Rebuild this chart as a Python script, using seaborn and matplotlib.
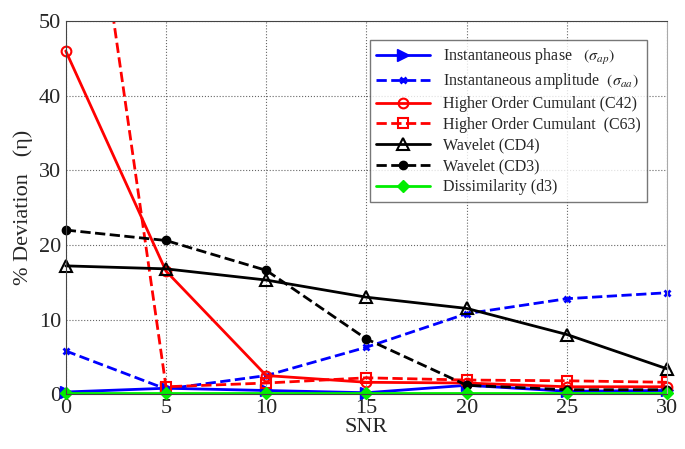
import matplotlib
matplotlib.use("Agg")
import matplotlib.pyplot as plt
import seaborn as sns
import pandas as pd

snr = [0, 5, 10, 15, 20, 25, 30]
phase = [0.3, 0.8, 0.5, 0.2, 1.2, 0.4, 0.5]
amplitude = [5.8, 0.7, 2.5, 6.3, 10.8, 12.8, 13.6]
c42 = [46.0, 16.5, 2.5, 1.6, 1.5, 1.0, 1.0]
c63 = [95.0, 1.0, 1.5, 2.2, 1.9, 1.8, 1.6]
cd4 = [17.2, 16.8, 15.3, 13.0, 11.5, 8.0, 3.4]
cd3 = [22.0, 20.6, 16.6, 7.4, 1.2, 0.6, 0.6]
dissim = [0.2, 0.2, 0.2, 0.2, 0.2, 0.2, 0.2]

labels = [
    r"Instantaneous phase   $(\boldsymbol{\sigma_{ap}})$",
    r"Instantaneous amplitude  $(\boldsymbol{\sigma_{aa}})$",
    "Higher Order Cumulant (C42)",
    "Higher Order Cumulant  (C63)",
    "Wavelet (CD4)",
    "Wavelet (CD3)",
    "Dissimilarity (d3)",
]
series = [phase, amplitude, c42, c63, cd4, cd3, dissim]
styles = [
    dict(color="#0000ff", ls="-", marker=">", ms=8, mfc="#0000ff"),
    dict(color="#0000ff", ls="--", marker="x", ms=5, mew=2),
    dict(color="#ff0000", ls="-", marker="o", ms=7, mfc="none", mew=1.5),
    dict(color="#ff0000", ls="--", marker="s", ms=7, mfc="none", mew=1.5),
    dict(color="#000000", ls="-", marker="^", ms=8, mfc="none", mew=1.5),
    dict(color="#000000", ls="--", marker="o", ms=6, mfc="#000000"),
    dict(color="#00ee00", ls="-", marker="D", ms=6, mfc="#00ee00"),
]

sns.set_style("white")
plt.rcParams["font.family"] = ["Liberation Serif", "DejaVu Serif"]
plt.rcParams["mathtext.fontset"] = "stix"

fig = plt.figure(figsize=(6.85, 4.49), dpi=100)
ax = fig.add_axes([0.096, 0.122, 0.878, 0.831])

for vals, lab, st in zip(series, labels, styles):
    df = pd.DataFrame({"SNR": snr, "v": vals})
    sns.lineplot(data=df, x="SNR", y="v", ax=ax, label=lab, lw=2,
                 color=st["color"], linestyle=st["ls"], marker=st["marker"],
                 markersize=st["ms"], markerfacecolor=st.get("mfc", st["color"]),
                 markeredgecolor=st["color"], markeredgewidth=st.get("mew", 1),
                 clip_on=False if vals is not c63 else True)

ax.set_xlim(0, 30)
ax.set_ylim(0, 50)
ax.set_xticks([0, 5, 10, 15, 20, 25, 30])
ax.set_yticks([0, 10, 20, 30, 40, 50])
ax.tick_params(labelsize=16, length=3, direction="in")
ax.grid(True, ls=":", color="#666666", lw=0.8)
ax.set_xlabel("SNR", fontsize=16, labelpad=0)
ax.set_ylabel("% Deviation   (η)", fontsize=16)
for s in ax.spines.values():
    s.set_color("#444444")
ax.spines["right"].set_color("#aaaaaa")

leg = ax.legend(loc="upper right", bbox_to_anchor=(0.98, 0.97), fontsize=11.5,
                frameon=True, fancybox=False, edgecolor="#555555",
                handlelength=3.4, labelspacing=0.3, borderpad=0.4)
leg.get_frame().set_linewidth(1.0)

fig.savefig("out.png", dpi=100)
